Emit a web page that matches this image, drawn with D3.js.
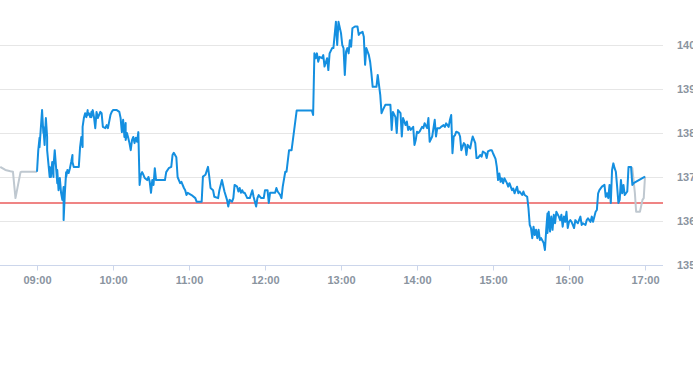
<!DOCTYPE html>
<html><head><meta charset="utf-8">
<script src="https://cdn.jsdelivr.net/npm/d3@7"></script>
<style>html,body{margin:0;padding:0;background:#fff;overflow:hidden}</style>
</head><body>
<svg id="c" width="693" height="365"></svg>
<script>
const xTickLabels = ["09:00","10:00","11:00","12:00","13:00","14:00","15:00","16:00","17:00"];
const yTickValues = [135,136,137,138,139,140];
const prevClose = 136.41;

const preTimes  = ["08:31","08:35","08:39","08:41","08:43","08:47","08:48","09:00"];
const preValues = [137.23,137.16,137.13,137.12,136.52,137.11,137.12,137.12];

const sessionTimes = [
"09:00","09:01","09:02","09:02","09:04","09:05","09:05","09:06","09:07","09:08","09:08","09:10","09:10","09:11","09:12","09:13","09:13","09:14","09:16","09:16",
"09:17","09:18","09:19","09:20","09:21","09:21","09:22","09:23","09:23","09:24","09:25","09:26","09:27","09:28","09:28","09:29","09:33","09:34","09:35","09:36",
"09:36","09:37","09:38","09:39","09:40","09:40","09:41","09:42","09:43","09:43","09:44","09:45","09:46","09:47","09:48","09:48","09:50","09:51","09:52","09:54",
"09:55","09:56","09:58","09:59","10:00","10:03","10:05","10:06","10:07","10:08","10:09","10:10","10:10","10:11","10:12","10:13","10:14","10:15","10:16","10:17",
"10:18","10:19","10:20","10:21","10:22","10:23","10:24","10:25","10:27","10:28","10:29","10:30","10:31","10:32","10:33","10:34","10:36","10:41","10:42","10:44",
"10:46","10:47","10:48","10:50","10:51","10:52","10:53","10:54","10:56","10:57","10:58","10:59","11:02","11:05","11:06","11:10","11:11","11:13","11:15","11:16",
"11:17","11:19","11:20","11:23","11:24","11:26","11:28","11:30","11:31","11:32","11:34","11:35","11:36","11:38","11:39","11:40","11:41","11:42","11:43","11:44",
"11:46","11:48","11:50","11:51","11:53","11:54","11:55","11:57","11:59","12:00","12:02","12:03","12:04","12:07","12:08","12:09","12:10","12:12","12:13","12:14",
"12:16","12:17","12:19","12:21","12:25","12:37","12:38","12:39","12:40","12:41","12:42","12:43","12:45","12:46","12:47","12:49","12:50","12:51","12:53","12:54",
"12:55","12:56","12:57","12:58","13:00","13:01","13:02","13:03","13:04","13:05","13:06","13:07","13:08","13:09","13:11","13:13","13:14","13:15","13:17","13:18",
"13:19","13:20","13:22","13:23","13:24","13:25","13:28","13:29","13:31","13:32","13:33","13:35","13:39","13:40","13:41","13:43","13:44","13:45","13:47","13:48",
"13:49","13:51","13:52","13:53","13:54","13:55","13:57","13:58","13:59","14:00","14:01","14:02","14:04","14:05","14:06","14:08","14:09","14:10","14:12","14:13",
"14:14","14:15","14:16","14:18","14:19","14:21","14:22","14:23","14:25","14:26","14:27","14:28","14:29","14:30","14:31","14:33","14:34","14:35","14:37","14:38",
"14:39","14:40","14:42","14:43","14:44","14:46","14:47","14:48","14:50","14:51","14:52","14:54","14:55","14:56","14:58","14:59","15:00","15:02","15:03","15:04",
"15:05","15:06","15:07","15:08","15:09","15:11","15:12","15:13","15:15","15:16","15:17","15:19","15:20","15:21","15:23","15:24","15:25","15:27","15:28","15:29",
"15:30","15:31","15:32","15:33","15:34","15:35","15:36","15:37","15:38","15:40","15:41","15:42","15:43","15:43","15:44","15:45","15:46","15:47","15:48","15:49",
"15:50","15:52","15:53","15:54","15:55","15:56","15:57","15:58","15:59","16:00","16:01","16:02","16:03","16:04","16:05","16:06","16:07","16:09","16:10","16:11",
"16:13","16:14","16:15","16:17","16:18","16:19","16:21","16:22","16:23","16:24","16:26","16:28","16:29","16:30","16:31","16:32","16:33","16:34","16:35","16:36",
"16:37","16:38","16:39","16:40","16:41","16:42","16:43","16:44","16:45","16:46","16:47","16:49","16:50","16:51","17:00"];
const sessionValues = [
137.12,137.61,137.89,137.68,138.52,138.00,138.14,137.73,138.34,137.91,137.61,137.00,137.23,137.00,137.34,137.00,137.23,137.61,136.86,137.16,
136.70,136.98,136.64,136.48,136.77,136.02,136.64,137.11,137.00,137.16,137.09,137.20,137.34,137.50,137.34,137.23,137.23,137.68,137.91,137.68,
138.14,138.34,138.45,138.36,138.52,138.41,138.45,138.36,138.48,138.36,138.52,138.36,138.11,138.48,138.36,138.34,138.48,138.45,138.14,138.11,
138.18,138.11,138.41,138.48,138.52,138.52,138.48,138.34,138.02,138.30,137.91,138.23,137.84,138.00,137.89,137.77,137.61,137.84,137.91,137.77,
137.89,137.80,138.02,136.82,137.05,137.11,137.05,136.98,136.93,137.00,136.89,136.64,136.93,136.82,137.20,136.93,136.93,136.93,137.11,137.20,
137.23,137.50,137.55,137.45,137.00,136.93,136.86,136.89,136.75,136.70,136.59,136.64,136.59,136.52,136.44,136.44,137.01,137.05,137.23,137.01,
136.75,136.70,136.55,136.52,136.70,136.93,136.67,136.48,136.33,136.48,136.44,136.52,136.82,136.78,136.67,136.75,136.64,136.70,136.64,136.64,
136.52,136.52,136.70,136.55,136.33,136.52,136.59,136.52,136.52,136.70,136.70,136.41,136.64,136.64,136.64,136.75,136.67,136.59,136.52,136.78,
137.12,137.12,137.61,137.61,138.51,138.51,138.41,139.81,139.70,139.81,139.62,139.73,139.70,139.77,139.51,139.70,139.43,139.81,139.93,139.93,
140.23,140.53,140.00,140.53,140.27,140.00,139.93,139.32,139.85,139.93,139.81,140.11,139.96,140.38,140.42,140.42,140.23,140.27,140.30,140.19,
139.55,139.93,139.77,139.62,139.36,139.05,139.05,139.32,138.86,138.45,138.52,138.64,138.64,138.07,138.48,138.36,138.00,138.52,138.45,137.92,
138.34,138.18,138.26,138.07,138.14,138.07,138.14,137.73,137.84,138.03,138.00,138.03,138.14,138.11,138.22,138.11,138.34,137.80,137.92,138.11,
138.30,137.92,138.11,138.11,138.14,138.18,138.14,138.22,138.14,138.30,138.41,137.54,137.92,137.95,138.03,138.00,137.92,137.61,137.77,137.73,
137.50,137.73,137.65,137.80,137.92,137.77,137.43,137.43,137.50,137.46,137.58,137.54,137.43,137.58,137.61,137.61,137.54,137.41,137.23,136.93,
137.08,136.89,136.97,136.86,136.97,136.86,136.78,136.86,136.70,136.74,136.63,136.78,136.63,136.67,136.59,136.67,136.59,136.55,136.29,135.91,
135.84,135.61,135.87,135.68,135.80,135.61,135.80,135.57,135.61,135.50,135.34,135.80,136.17,135.73,136.21,135.76,136.10,135.80,136.14,135.95,
136.21,136.10,136.02,136.14,135.87,136.10,135.98,136.21,135.84,135.98,136.02,135.98,135.91,135.84,136.02,135.98,135.95,136.10,135.91,135.95,
135.91,136.02,136.06,135.98,136.10,135.98,136.21,136.25,136.63,136.70,136.78,136.82,136.55,136.63,136.52,136.82,136.41,137.16,137.31,137.20,
137.12,136.78,136.41,136.48,136.93,136.63,136.82,136.59,136.63,136.67,137.23,137.23,136.82,136.86,137.01];

const postTimes  = ["16:49","16:50","16:52","16:53","16:56","16:58","16:59","17:00"];
const postValues = [137.23,137.20,136.64,136.21,136.21,136.48,136.52,137.01];

const plotLeft = 0, plotRight = 663;
const parse = d3.timeParse("%H:%M");
const x = d3.scaleTime().domain([parse("09:00"), parse("17:00")]).range([37, 645]);
const y = d3.scaleLinear().domain([135, 140]).range([265, 45]);

const svg = d3.select("#c");
const font = "'Liberation Sans', Arial, sans-serif";

svg.append("defs").append("clipPath").attr("id", "clip")
  .append("rect").attr("x", plotLeft).attr("y", 0).attr("width", plotRight - plotLeft).attr("height", 266);

// grid
svg.append("g").selectAll("line").data(yTickValues.filter(v => v !== 135)).join("line")
  .attr("x1", plotLeft).attr("x2", plotRight)
  .attr("y1", d => Math.round(y(d)) + 0.5).attr("y2", d => Math.round(y(d)) + 0.5)
  .attr("stroke", "#e6e6e6").attr("stroke-width", 1);

// y labels
svg.append("g").selectAll("text").data(yTickValues).join("text")
  .attr("x", 677).attr("y", d => y(d) + 4)
  .attr("font-family", font).attr("font-size", 11).attr("font-weight", "bold")
  .attr("fill", "#8a949f").text(d => d);

// x axis
const xAxis = d3.axisBottom(x)
  .tickValues(xTickLabels.map(parse))
  .tickFormat(d3.timeFormat("%H:%M"))
  .tickSize(5).tickPadding(6);
const gx = svg.append("g").attr("transform", `translate(0,${Math.round(y(135)) + 0.5})`).call(xAxis);
gx.select(".domain").remove();
gx.selectAll(".tick line").attr("stroke", "#ccd6eb");
gx.selectAll(".tick text").attr("font-family", font).attr("font-size", 11)
  .attr("font-weight", "bold").attr("fill", "#8a949f");
svg.append("line").attr("x1", plotLeft).attr("x2", plotRight)
  .attr("y1", Math.round(y(135)) + 0.5).attr("y2", Math.round(y(135)) + 0.5)
  .attr("stroke", "#ccd6eb").attr("stroke-width", 1);

// previous close reference line
svg.append("line").attr("x1", plotLeft).attr("x2", plotRight)
  .attr("y1", Math.round(y(prevClose))).attr("y2", Math.round(y(prevClose)))
  .attr("stroke", "#e00a0a").attr("stroke-width", 1.2);

const line = d3.line().x(d => x(d[0])).y(d => y(d[1]));
const g = svg.append("g").attr("clip-path", "url(#clip)");
const toPts = (ts, vs) => ts.map((t, i) => [parse(t), vs[i]]);

g.append("path").datum(toPts(preTimes, preValues)).attr("d", line)
  .attr("fill", "none").attr("stroke", "#bfc8d0").attr("stroke-width", 2).attr("stroke-linejoin", "round");
g.append("path").datum(toPts(postTimes, postValues)).attr("d", line)
  .attr("fill", "none").attr("stroke", "#bfc8d0").attr("stroke-width", 2).attr("stroke-linejoin", "round");
g.append("path").datum(toPts(sessionTimes, sessionValues)).attr("d", line)
  .attr("fill", "none").attr("stroke", "#148fe0").attr("stroke-width", 2).attr("stroke-linejoin", "round");
</script>
</body></html>
